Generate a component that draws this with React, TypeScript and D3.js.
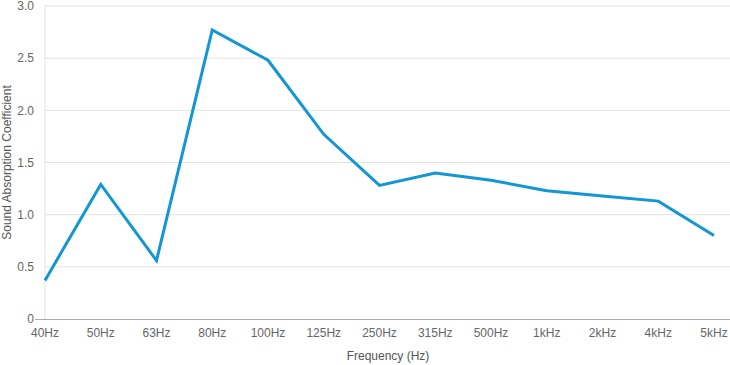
import { useEffect } from 'react';
import * as d3 from 'd3';

const categories = ['40Hz', '50Hz', '63Hz', '80Hz', '100Hz', '125Hz', '250Hz', '315Hz', '500Hz', '1kHz', '2kHz', '4kHz', '5kHz'];
const values = [0.37, 1.29, 0.56, 2.77, 2.48, 1.77, 1.28, 1.4, 1.33, 1.23, 1.18, 1.13, 0.8];
const yTicks = [0, 0.5, 1.0, 1.5, 2.0, 2.5, 3.0];

const width = 730;
const height = 365;
const left = 45;
const right = 16;
const top = 6;
const bottom = 46;

const App = () => {
  useEffect(() => {
    document.body.style.margin = '0';
  }, []);

  const x = d3.scalePoint<string>().domain(categories).range([left, width - right]).padding(0);
  const y = d3.scaleLinear().domain([0, 3]).range([height - bottom, top]);

  const line = d3
    .line<number>()
    .x((_, i) => x(categories[i]) as number)
    .y(d => y(d));

  const fmt = (v: number) => (v === 0 ? '0' : v.toFixed(1));

  return (
    <svg width={width} height={height} style={{ display: 'block' }} fontFamily="'Liberation Sans', Arial, sans-serif">
      {yTicks.map(t => (
        <g key={t}>
          {t > 0 && <line x1={left} x2={width} y1={y(t)} y2={y(t)} stroke="#e3e3e3" strokeWidth={1} />}
          <text x={34} y={y(t)} dy="0.35em" textAnchor="end" fontSize={12} fill="#666">
            {fmt(t)}
          </text>
        </g>
      ))}
      <line x1={left} x2={left} y1={top} y2={y(0)} stroke="#e3e3e3" strokeWidth={1} />
      <line x1={left - 10} x2={width} y1={y(0) + 0.5} y2={y(0) + 0.5} stroke="#aaa" strokeWidth={1} />
      {categories.map(c => (
        <text key={c} x={x(c)} y={337} textAnchor="middle" fontSize={12} fill="#666">
          {c}
        </text>
      ))}
      <text x={388} y={360} textAnchor="middle" fontSize={12} fill="#555">
        Frequency (Hz)
      </text>
      <text transform={`translate(11,${(top + y(0)) / 2}) rotate(-90)`} textAnchor="middle" fontSize={12} fill="#555">
        Sound Absorption Coefficient
      </text>
      <path d={line(values) ?? ''} fill="none" stroke="#1296d6" strokeWidth={3} strokeLinejoin="miter" />
    </svg>
  );
};

export default App;
